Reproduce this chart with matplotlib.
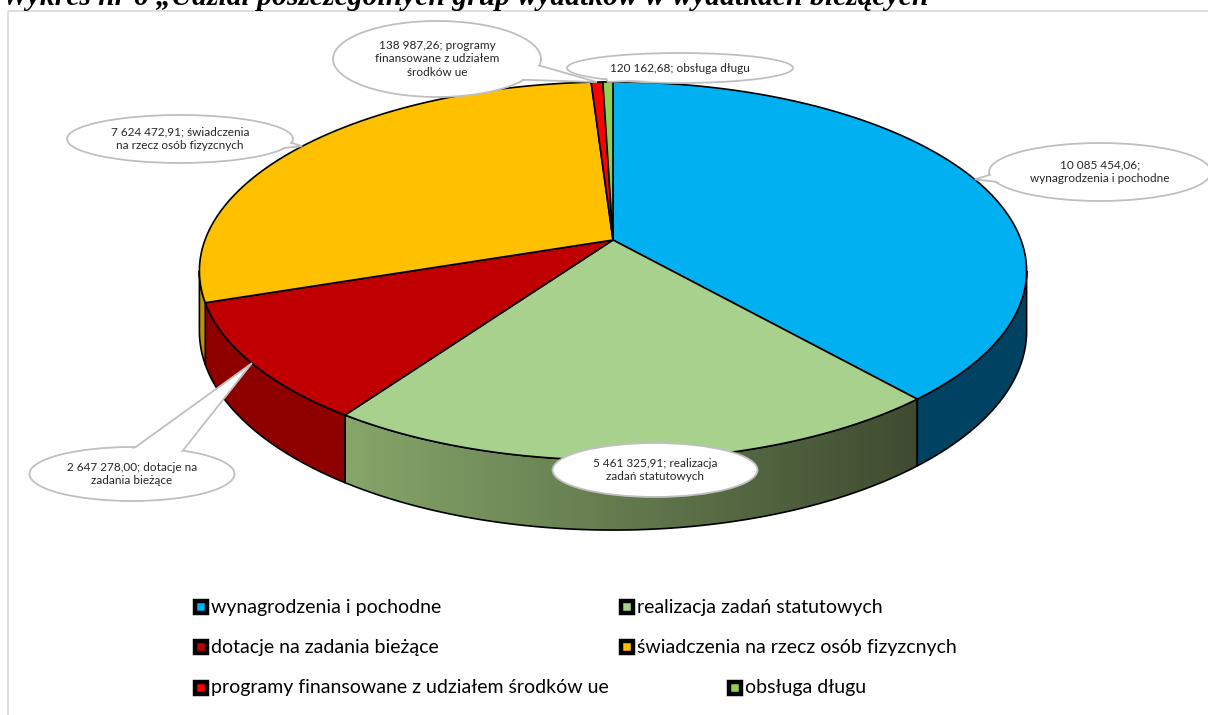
import matplotlib.pyplot as plt
import numpy as np
import textwrap
from matplotlib.patches import Polygon, Ellipse, Rectangle
from matplotlib.colors import LinearSegmentedColormap

categories = ['wynagrodzenia i pochodne', 'realizacja zadań statutowych',
              'dotacje na zadania bieżące', 'świadczenia na rzecz osób fizyzcnych',
              'programy finansowane z udziałem środków ue', 'obsługa długu']
values = [10085454.06, 5461325.91, 2647278.00, 7624472.91, 138987.26, 120162.68]
top_colors = ['#00b0f0', '#a9d18e', '#c00000', '#ffc000', '#ff0000', '#92d050']
side_colors = ['#004262', '#5a6e48', '#8e0000', '#bf9000', '#bf0000', '#6d9c3c']

title = 'Wykres nr 6 \u201eUdział poszczególnych grup wydatków w wydatkach bieżących'

# bubble layout: centre, width, height (pixels), wrap width, pointer
bubble_xy = [(1100, 172), (655, 470), (132, 474), (180, 139), (437, 59), (680, 68)]
bubble_wh = [(222, 58), (205, 54), (205, 54), (226, 48), (208, 76), (226, 30)]
bubble_wrap = [24, 24, 24, 25, 22, 26]
bubble_ptr = [True, False, True, True, True, True]

legend_xy = [(201, 607), (627, 607), (201, 647), (627, 647), (201, 688), (735, 688)]

W, H = 1208, 715
fig = plt.figure(figsize=(W / 100, H / 100), dpi=100)
ax = fig.add_axes([0, 0, 1, 1])
ax.set_xlim(0, W)
ax.set_ylim(H, 0)
ax.axis('off')

# frame
ax.add_patch(Rectangle((8, 11), W, H, fill=False, ec='#d9d9d9', lw=1.2))

# perspective pie geometry
cx, cy, A, B, k, D = 613, 240, 408, 184, 0.164, 58.5


def proj(phi, z=0.0):
    s = -np.cos(phi)
    d = 1 - k * s
    return cx + A * np.sin(phi) / d, cy + (B * s + z) / d


frac = np.array(values) / np.sum(values)
edges = np.concatenate([[0], np.cumsum(frac)]) * 2 * np.pi
phi_r = np.arccos(-k)
phi_l = 2 * np.pi - phi_r

green_cmap = LinearSegmentedColormap.from_list('g', ['#86a66a', '#3f4b30'])

# side walls
for i in range(len(values)):
    a0, a1 = max(edges[i], phi_r), min(edges[i + 1], phi_l)
    if a1 <= a0:
        continue
    t = np.linspace(a0, a1, 200)
    xt, yt = proj(t)
    xb, yb = proj(t[::-1], D)
    pts = np.column_stack([np.concatenate([xt, xb]), np.concatenate([yt, yb])])
    if i == 1:
        poly = Polygon(pts, closed=True, fc='none', ec='black', lw=1.2, zorder=3)
        ax.add_patch(poly)
        grad = np.linspace(0, 1, 256).reshape(1, -1)
        im = ax.imshow(grad, cmap=green_cmap, aspect='auto', zorder=2,
                       extent=[pts[:, 0].min(), pts[:, 0].max(), pts[:, 1].max(), pts[:, 1].min()])
        im.set_clip_path(poly)
    else:
        ax.add_patch(Polygon(pts, closed=True, fc=side_colors[i], ec='black', lw=1.2, zorder=3))

# top faces
for i in range(len(values)):
    t = np.linspace(edges[i], edges[i + 1], 300)
    xt, yt = proj(t)
    pts = np.column_stack([np.concatenate([[cx], xt]), np.concatenate([[cy], yt])])
    ax.add_patch(Polygon(pts, closed=True, fc=top_colors[i], ec='black', lw=1.2, zorder=4))

ax.set_xlim(0, W)
ax.set_ylim(H, 0)


def fmt(v):
    return f'{v:,.2f}'.replace(',', ' ').replace('.', ',')


# data label bubbles
for i in range(len(values)):
    bx, by = bubble_xy[i]
    bw, bh = bubble_wh[i]
    ax.add_patch(Ellipse((bx, by), bw, bh, fc='white', ec='#bfbfbf', lw=1.3, zorder=5))
    if bubble_ptr[i]:
        tx, ty = proj((edges[i] + edges[i + 1]) / 2)
        al = np.arctan2((ty - by) / (bh / 2), (tx - bx) / (bw / 2))
        b1 = (bx + 0.85 * bw / 2 * np.cos(al - 0.3), by + 0.85 * bh / 2 * np.sin(al - 0.3))
        b2 = (bx + 0.85 * bw / 2 * np.cos(al + 0.3), by + 0.85 * bh / 2 * np.sin(al + 0.3))
        ax.add_patch(Polygon([b1, (tx, ty), b2], closed=True, fc='white', ec='#bfbfbf',
                             lw=1.3, zorder=5))
        ax.add_patch(Ellipse((bx, by), bw - 3, bh - 3, fc='white', ec='none', zorder=5))
    label = textwrap.fill(f'{fmt(values[i])}; {categories[i]}', bubble_wrap[i])
    ax.text(bx, by, label, ha='center', va='center', fontsize=8.5, family='Lato',
            color='#262626', linespacing=1.25, zorder=6)

# legend
for i, (lx, ly) in enumerate(legend_xy):
    ax.plot(lx, ly, marker='s', ms=8, mew=3.2, mfc=top_colors[i], mec='black', zorder=6)
    ax.text(lx + 10, ly, categories[i], va='center', ha='left', fontsize=14,
            family='Lato', color='black', zorder=6)

# title (clipped at the top, as in the source)
fig.text(2 / W, 1 - 5 / H, title, ha='left', va='baseline', fontsize=21.3,
         family='Liberation Serif', weight='bold', style='italic')

fig.savefig('out.png', dpi=100)
